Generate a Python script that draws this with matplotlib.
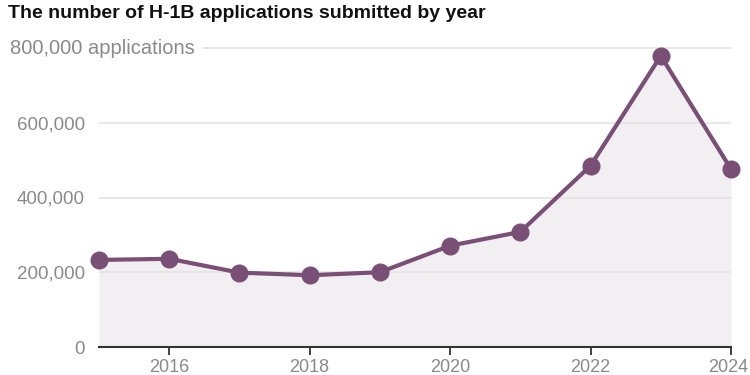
import matplotlib
matplotlib.use("Agg")
import matplotlib.pyplot as plt
import matplotlib.transforms as mtransforms

years = [2015, 2016, 2017, 2018, 2019, 2020, 2021, 2022, 2023, 2024]
applications = [233000, 236000, 199000, 192000, 200000, 271000, 308000, 485000, 779000, 476000]
y_ticks = [0, 200000, 400000, 600000]
y_tick_labels = ["0", "200,000", "400,000", "600,000"]
top_label = "800,000 applications"
x_ticks = [2016, 2018, 2020, 2022, 2024]
title = "The number of H-1B applications submitted by year"

line_color = "#7a4f76"
fill_color = "#f2eff3"
grid_color = "#e4e4e4"
label_color = "#8a8a8a"
tick_font = ["Liberation Sans", "DejaVu Sans"]

fig = plt.figure(figsize=(7.5, 3.75), dpi=100)
ax = fig.add_axes([99/750, 1-347/375, (731-99)/750, (347-48)/375])
ax.set_xlim(2015, 2024)
ax.set_ylim(0, 800000)

ax.fill_between(years, applications, 0, color=fill_color, zorder=1, linewidth=0)
for v in y_ticks[1:]:
    ax.axhline(v, color=grid_color, linewidth=1.2, zorder=1.5)
# top gridline starts after the label
ax.plot([2015 + (203-99)/(731-99)*9, 2024], [800000, 800000], color=grid_color,
        linewidth=1.2, zorder=1.5, clip_on=False)
ax.plot(years, applications, color=line_color, linewidth=3, marker="o",
        markersize=12, zorder=3, clip_on=False)

for s in ["top", "right", "left"]:
    ax.spines[s].set_visible(False)
ax.spines["bottom"].set_color("#333333")
ax.spines["bottom"].set_linewidth(1.5)
ax.spines["bottom"].set_zorder(4)

ax.set_yticks(y_ticks)
ax.set_yticklabels(y_tick_labels, color=label_color, fontsize=13.5, family=tick_font)
ax.tick_params(axis="y", length=0, pad=10)
ax.set_xticks(x_ticks)
ax.set_xticklabels([str(x) for x in x_ticks], color=label_color, fontsize=13, family=tick_font)
ax.tick_params(axis="x", length=6, width=1.3, color="#333333", pad=3)
last = ax.get_xticklabels()[-1]
last.set_transform(last.get_transform() + mtransforms.ScaledTranslation(-3/100, 0, fig.dpi_scale_trans))

fig.text(10/750, 1-48/375, top_label, color=label_color, fontsize=14.5, family=tick_font,
         ha="left", va="center")
fig.text(8/750, 1-13/375, title, color="#111111", fontsize=14, fontweight="bold",
         family=["Liberation Sans", "DejaVu Sans"], ha="left", va="center")

fig.savefig("out.png", dpi=100, facecolor="white")
